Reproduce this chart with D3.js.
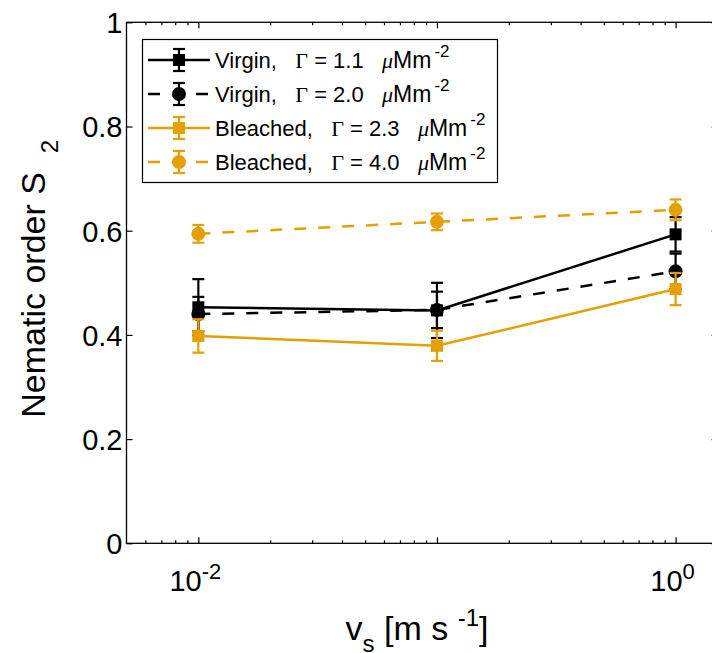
<!DOCTYPE html>
<html>
<head>
<meta charset="utf-8">
<script src="https://cdn.jsdelivr.net/npm/d3@7"></script>
<style>
body { margin: 0; background: white; }
svg { font-family: "Liberation Sans", Arial, sans-serif; }
text { white-space: pre; }
</style>
</head>
<body>
<svg width="712" height="653"></svg>
<script>
// speeds and S2 values
var speeds = [0.01, 0.1, 1];
var virgin11 = [0.453, 0.447, 0.593], virgin11Err = [0.054, 0.053, 0.033];
var virgin20 = [0.440, 0.448, 0.522], virgin20Err = [0.033, 0.035, 0.034];
var bleach23 = [0.398, 0.379, 0.488], bleach23Err = [0.032, 0.029, 0.031];
var bleach40 = [0.594, 0.617, 0.640], bleach40Err = [0.017, 0.016, 0.020];
var seriesNames = ["Virgin,", "Virgin,", "Bleached,", "Bleached,"];
var gammas = ["1.1", "2.0", "2.3", "4.0"];
var yTicks = [0, 0.2, 0.4, 0.6, 0.8, 1];
var yTickLabels = ["0", "0.2", "0.4", "0.6", "0.8", "1"];
var xMajor = [0.01, 0.1, 1];
var xLabelled = [0.01, 1];
var xMinor = [0.006, 0.007, 0.008, 0.009, 0.02, 0.03, 0.04, 0.05, 0.06, 0.07, 0.08, 0.09,
              0.2, 0.3, 0.4, 0.5, 0.6, 0.7, 0.8, 0.9];

var orange = "#e69f00";
var series = [
    {name: seriesNames[0], g: gammas[0], y: virgin11, e: virgin11Err, color: "black", dash: null, shape: "square"},
    {name: seriesNames[1], g: gammas[1], y: virgin20, e: virgin20Err, color: "black", dash: "12,12", shape: "circle"},
    {name: seriesNames[2], g: gammas[2], y: bleach23, e: bleach23Err, color: orange, dash: null, shape: "square"},
    {name: seriesNames[3], g: gammas[3], y: bleach40, e: bleach40Err, color: orange, dash: "12,12", shape: "circle"}
];

var pLeft = 126.5, pRight = 717.6, pTop = 22.3, pBottom = 543.3;
var svg = d3.select("svg");

var x = d3.scaleLog().domain([0.005, 1.5]).range([pLeft, pRight]);
var y = d3.scaleLinear().domain([0, 1]).range([pBottom, pTop]);

// frame
svg.append("rect")
    .attr("x", pLeft).attr("y", pTop)
    .attr("width", pRight - pLeft).attr("height", pBottom - pTop)
    .attr("fill", "none").attr("stroke", "black").attr("stroke-width", 1.3);

function styleAxis(g){
    g.select(".domain").remove();
    g.selectAll(".tick line").attr("stroke", "black").attr("stroke-width", 1.2);
}

// y axis, ticks inward
svg.append("g")
    .attr("transform", "translate(" + pLeft + ",0)")
    .call(d3.axisLeft(y).tickValues(yTicks).tickSize(-6).tickPadding(4)
        .tickFormat(function(d, i){ return yTickLabels[i]; }))
    .call(styleAxis)
    .selectAll("text")
    .attr("font-size", 29).attr("font-family", "Liberation Sans, Arial, sans-serif")
    .attr("fill", "black").attr("dy", "0.36em");

svg.append("g")
    .attr("transform", "translate(" + pRight + ",0)")
    .call(d3.axisRight(y).tickValues(yTicks).tickSize(-6).tickFormat(""))
    .call(styleAxis);

// x axes
svg.append("g")
    .attr("transform", "translate(0," + pBottom + ")")
    .call(d3.axisBottom(x).tickValues(xMinor).tickSize(-3).tickFormat(""))
    .call(styleAxis);
svg.append("g")
    .attr("transform", "translate(0," + pBottom + ")")
    .call(d3.axisBottom(x).tickValues(xMajor).tickSize(-6).tickFormat(""))
    .call(styleAxis);
svg.append("g")
    .attr("transform", "translate(0," + pTop + ")")
    .call(d3.axisTop(x).tickValues(xMinor).tickSize(-3).tickFormat(""))
    .call(styleAxis);
svg.append("g")
    .attr("transform", "translate(0," + pTop + ")")
    .call(d3.axisTop(x).tickValues(xMajor).tickSize(-6).tickFormat(""))
    .call(styleAxis);

// x tick labels 10^n
xLabelled.forEach(function(v){
    var t = svg.append("text")
        .attr("x", x(v) - 3).attr("y", pBottom + 48)
        .attr("text-anchor", "middle")
        .attr("font-size", 29);
    t.append("tspan").text("10");
    t.append("tspan").attr("font-size", 22).attr("dy", -12)
        .text(String(Math.round(Math.log10(v))));
});

// axis titles
var yl = svg.append("text")
    .attr("transform", "translate(45," + ((pTop + pBottom) / 2 - 4) + ") rotate(-90)")
    .attr("text-anchor", "middle")
    .attr("font-size", 34);
yl.append("tspan").text("Nematic order S  ");
yl.append("tspan").attr("font-size", 24).attr("dy", 13).text("2");

var xl = svg.append("text")
    .attr("x", (pLeft + pRight) / 2 - 5).attr("y", 640)
    .attr("text-anchor", "middle")
    .attr("font-size", 34);
xl.append("tspan").text("v");
xl.append("tspan").attr("font-size", 24).attr("dy", 12).text("s");
xl.append("tspan").attr("dy", -12).text(" [m s ");
xl.append("tspan").attr("font-size", 24).attr("dy", -14).text("-1");
xl.append("tspan").attr("dy", 14).text("]");

// data
var line = d3.line()
    .x(function(d, i){ return x(speeds[i]); })
    .y(function(d){ return y(d); });

function drawMarker(g, shape, color, cx, cy){
    if(shape == "square"){
        g.append("rect")
            .attr("x", cx - 6).attr("y", cy - 6)
            .attr("width", 12).attr("height", 12)
            .attr("fill", color);
    }
    else{
        g.append("circle")
            .attr("cx", cx).attr("cy", cy).attr("r", 7)
            .attr("fill", color);
    }
}

function drawErr(g, color, cx, y0, y1){
    g.append("line").attr("x1", cx).attr("x2", cx).attr("y1", y0).attr("y2", y1)
        .attr("stroke", color).attr("stroke-width", 2.2);
    [y0, y1].forEach(function(yy){
        g.append("line").attr("x1", cx - 6).attr("x2", cx + 6).attr("y1", yy).attr("y2", yy)
            .attr("stroke", color).attr("stroke-width", 2.2);
    });
}

series.forEach(function(s){
    var g = svg.append("g");
    g.append("path")
        .attr("d", line(s.y))
        .attr("fill", "none")
        .attr("stroke", s.color)
        .attr("stroke-width", 2.5)
        .attr("stroke-dasharray", s.dash);
    s.y.forEach(function(v, i){
        drawErr(g, s.color, x(speeds[i]), y(v - s.e[i]), y(v + s.e[i]));
        drawMarker(g, s.shape, s.color, x(speeds[i]), y(v));
    });
});

// legend
var lg = svg.append("g");
lg.append("rect")
    .attr("x", 142.5).attr("y", 39.5).attr("width", 355).attr("height", 143)
    .attr("fill", "white").attr("stroke", "black").attr("stroke-width", 1.2);

series.forEach(function(s, i){
    var cy = 60 + i * 34;
    var g = lg.append("g");
    g.append("line").attr("x1", 148).attr("x2", 210).attr("y1", cy).attr("y2", cy)
        .attr("stroke", s.color).attr("stroke-width", 2.5)
        .attr("stroke-dasharray", s.dash);
    drawErr(g, s.color, 179, cy - 11, cy + 11);
    drawMarker(g, s.shape, s.color, 179, cy);

    var t = g.append("text").attr("x", 215).attr("y", cy + 8).attr("font-size", 22);
    t.append("tspan").text(s.name + "   ");
    t.append("tspan").attr("font-family", "Liberation Serif, Times New Roman, serif").text("\u0393");
    t.append("tspan").text(" = " + s.g + "   ");
    t.append("tspan").attr("font-family", "Liberation Serif, Times New Roman, serif")
        .attr("font-style", "italic").text("\u03bc");
    t.append("tspan").attr("font-size", 23).text("Mm");
    t.append("tspan").attr("font-size", 17).attr("dx", 3).attr("dy", -11).text("-2");
});
</script>
</body>
</html>
